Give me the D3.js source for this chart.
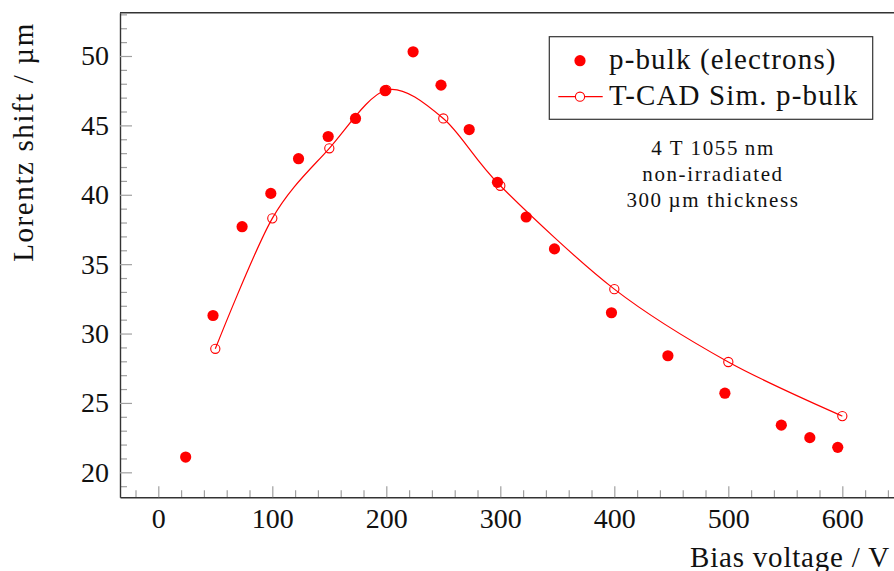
<!DOCTYPE html>
<html>
<head>
<meta charset="utf-8">
<script src="https://cdn.jsdelivr.net/npm/d3@7"></script>
<style>
  html, body { margin: 0; padding: 0; background: #fff; }
  svg { display: block; }
  text { font-family: "Liberation Serif", "DejaVu Serif", serif; fill: #111; }
</style>
</head>
<body>
<svg id="chart" width="894" height="571"></svg>
<script>
// Measured Lorentz shift (p-bulk, electrons) versus bias voltage
const measVoltage = [24, 48, 73.5, 98.7, 123, 149, 173, 199, 223.5, 248, 272.7, 297.5, 322.7, 347.5, 397.5, 447, 497, 546.5, 571.5, 596];
const measShift   = [21.1, 31.3, 37.7, 40.1, 42.6, 44.2, 45.5, 47.5, 50.3, 47.9, 44.7, 40.9, 38.4, 36.1, 31.5, 28.4, 25.7, 23.4, 22.5, 21.8];

// T-CAD simulation, p-bulk
const simVoltage = [50, 100, 150, 200, 250, 300, 400, 500, 600];
const simShift   = [28.9, 38.3, 43.35, 47.55, 45.5, 40.65, 33.2, 27.95, 24.05];

// Axis ticks
const xMajorTicks = [0, 100, 200, 300, 400, 500, 600];
const yMajorTicks = [20, 25, 30, 35, 40, 45, 50];

const legendLabels = ["p-bulk (electrons)", "T-CAD Sim. p-bulk"];
const noteLines = ["4 T 1055\u2009nm", "non-irradiated", "300\u2009\u00b5m thickness"];

const red = "#ff0000";
const svg = d3.select("#chart");

const plot = { left: 120, right: 900, top: 12.7, bottom: 497.3 };

const x = d3.scaleLinear().domain([-33.6, 650.6]).range([plot.left, plot.right]);
const y = d3.scaleLinear().domain([18.2, 53.12]).range([plot.bottom, plot.top]);

const xMinor = d3.range(-20, 660, 20).filter(v => v % 100 !== 0);
const yMinor = d3.range(19, 54, 1).filter(v => v % 5 !== 0);

// minor ticks (inward, grey)
svg.append("g")
  .attr("transform", `translate(0,${plot.bottom})`)
  .call(d3.axisBottom(x).tickValues(xMinor).tickSize(-7).tickSizeOuter(0).tickFormat(""))
  .call(g => g.select(".domain").remove())
  .call(g => g.selectAll(".tick line").attr("stroke", "#a0a0a0").attr("stroke-width", 1.2));

svg.append("g")
  .attr("transform", `translate(${plot.left},0)`)
  .call(d3.axisLeft(y).tickValues(yMinor).tickSize(-7).tickSizeOuter(0).tickFormat(""))
  .call(g => g.select(".domain").remove())
  .call(g => g.selectAll(".tick line").attr("stroke", "#a0a0a0").attr("stroke-width", 1.2));

// major ticks with labels
svg.append("g")
  .attr("transform", `translate(0,${plot.bottom})`)
  .call(d3.axisBottom(x).tickValues(xMajorTicks).tickSize(-11).tickSizeOuter(0).tickPadding(11))
  .call(g => g.select(".domain").attr("stroke", "#333").attr("stroke-width", 1.4))
  .call(g => g.selectAll(".tick line").attr("stroke", "#a0a0a0").attr("stroke-width", 1.2))
  .call(g => g.selectAll(".tick text")
    .attr("fill", "#111").style("font-family", "'Liberation Serif', serif").style("font-size", "28px"));

svg.append("g")
  .attr("transform", `translate(${plot.left},0)`)
  .call(d3.axisLeft(y).tickValues(yMajorTicks).tickSize(-12).tickSizeOuter(0).tickPadding(11))
  .call(g => g.select(".domain").attr("stroke", "#333").attr("stroke-width", 1.4))
  .call(g => g.selectAll(".tick line").attr("stroke", "#a0a0a0").attr("stroke-width", 1.2))
  .call(g => g.selectAll(".tick text")
    .attr("fill", "#111").style("font-family", "'Liberation Serif', serif").style("font-size", "28px"));

// top frame line
svg.append("line")
  .attr("x1", plot.left).attr("x2", plot.right)
  .attr("y1", plot.top).attr("y2", plot.top)
  .attr("stroke", "#333").attr("stroke-width", 1.4);

// axis titles
svg.append("text")
  .attr("transform", "translate(33,142) rotate(-90)")
  .attr("text-anchor", "middle")
  .style("font-size", "29px")
  .style("letter-spacing", "1.6px")
  .text("Lorentz shift / \u00b5m");

svg.append("text")
  .attr("x", 690).attr("y", 567)
  .style("font-size", "29px")
  .style("letter-spacing", "0.8px")
  .text("Bias voltage / V");

// simulation curve
const simData = simVoltage.map((v, i) => [v, simShift[i]]);
const line = d3.line()
  .x(d => x(d[0])).y(d => y(d[1]))
  .curve(d3.curveCardinal.tension(0.08));

svg.append("path")
  .datum(simData)
  .attr("d", line)
  .attr("fill", "none")
  .attr("stroke", red)
  .attr("stroke-width", 1.2);

// measured points
svg.append("g")
  .selectAll("circle")
  .data(measVoltage.map((v, i) => [v, measShift[i]]))
  .join("circle")
  .attr("cx", d => x(d[0])).attr("cy", d => y(d[1]))
  .attr("r", 5.6)
  .attr("fill", red);

// simulation markers
svg.append("g")
  .selectAll("circle")
  .data(simData)
  .join("circle")
  .attr("cx", d => x(d[0])).attr("cy", d => y(d[1]))
  .attr("r", 4.6)
  .attr("fill", "none")
  .attr("stroke", red)
  .attr("stroke-width", 1.1);

// legend
const lg = svg.append("g");
lg.append("rect")
  .attr("x", 549.3).attr("y", 36.7)
  .attr("width", 323.4).attr("height", 82.6)
  .attr("fill", "#fff").attr("stroke", "#333").attr("stroke-width", 1.2);
lg.append("circle").attr("cx", 580).attr("cy", 60.7).attr("r", 5.6).attr("fill", red);
lg.append("line").attr("x1", 558.3).attr("x2", 602.7).attr("y1", 96.7).attr("y2", 96.7)
  .attr("stroke", red).attr("stroke-width", 1.2);
lg.append("circle").attr("cx", 580).attr("cy", 96.7).attr("r", 4.6)
  .attr("fill", "#fff").attr("stroke", red).attr("stroke-width", 1.1);
lg.selectAll("text.lab")
  .data(legendLabels)
  .join("text")
  .attr("class", "lab")
  .attr("x", 609)
  .attr("y", (d, i) => i === 0 ? 68.5 : 104.5)
  .style("font-size", "29px")
  .style("letter-spacing", "1.15px")
  .text(d => d);

// annotation
svg.append("g")
  .selectAll("text")
  .data(noteLines)
  .join("text")
  .attr("x", 713)
  .attr("y", (d, i) => 155 + i * 25.8)
  .attr("text-anchor", "middle")
  .style("font-size", "21px")
  .style("letter-spacing", "1.6px")
  .text(d => d);
</script>
</body>
</html>
